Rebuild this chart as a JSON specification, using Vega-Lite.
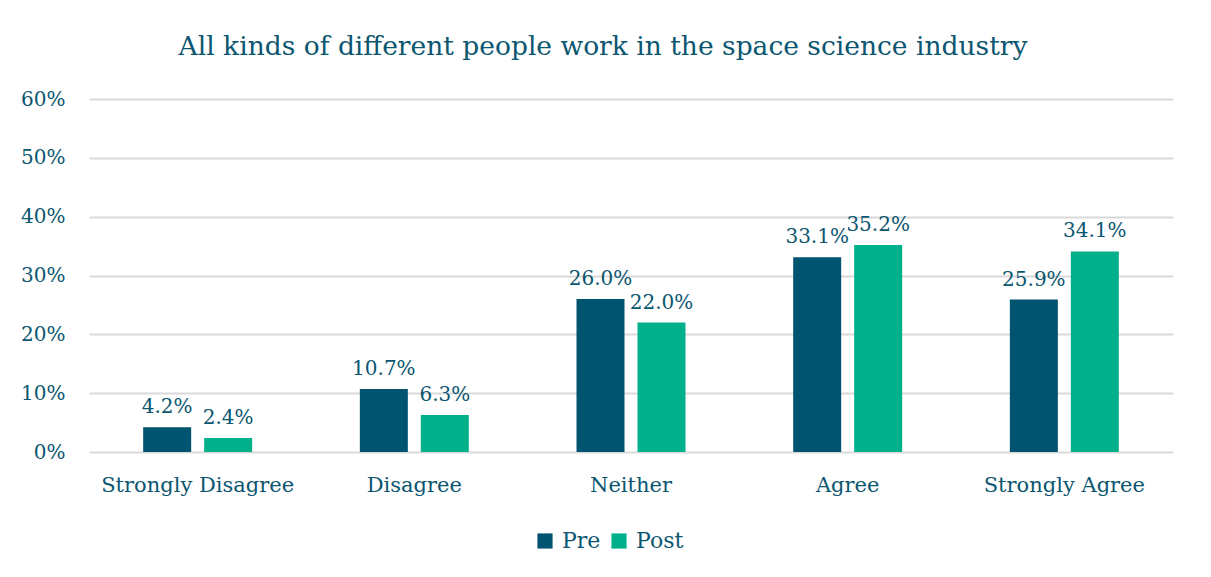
{
  "$schema": "https://vega.github.io/schema/vega-lite/v6.json",
  "width": 1084,
  "height": 353,
  "autosize": "none",
  "padding": {"left": 89, "top": 99, "right": 38, "bottom": 125},
  "background": "white",
  "title": {
    "text": "All kinds of different people work in the space science industry",
    "font": "DejaVu Serif",
    "fontSize": 26.5,
    "fontWeight": "normal",
    "color": "#0B5670",
    "anchor": "middle",
    "dx": -28,
    "offset": 29
  },
  "data": {
    "values": [
      {"cat": "Strongly Disagree", "grp": "Pre", "v": 0.042},
      {"cat": "Strongly Disagree", "grp": "Post", "v": 0.024},
      {"cat": "Disagree", "grp": "Pre", "v": 0.107},
      {"cat": "Disagree", "grp": "Post", "v": 0.063},
      {"cat": "Neither", "grp": "Pre", "v": 0.260},
      {"cat": "Neither", "grp": "Post", "v": 0.220},
      {"cat": "Agree", "grp": "Pre", "v": 0.331},
      {"cat": "Agree", "grp": "Post", "v": 0.352},
      {"cat": "Strongly Agree", "grp": "Pre", "v": 0.259},
      {"cat": "Strongly Agree", "grp": "Post", "v": 0.341}
    ]
  },
  "encoding": {
    "x": {
      "field": "cat", "type": "nominal", "sort": null, "title": null,
      "scale": {"paddingInner": 0.497, "paddingOuter": 0.25},
      "axis": {"labelAngle": 0, "domain": false, "ticks": false, "labelPadding": 22, "labelLimit": 0, "labelOverlap": false, "labelFont": "DejaVu Serif", "labelFontSize": 21, "labelColor": "#0B5670"}
    },
    "xOffset": {"field": "grp", "type": "nominal", "sort": ["Pre", "Post"], "scale": {"paddingInner": 0.213}},
    "y": {
      "field": "v", "type": "quantitative", "title": null,
      "scale": {"domain": [0, 0.6]},
      "axis": {"format": ".0%", "values": [0, 0.1, 0.2, 0.3, 0.4, 0.5, 0.6], "labelOverlap": false, "domain": false, "ticks": false, "labelPadding": 24, "labelFont": "DejaVu Serif", "labelFontSize": 20, "labelColor": "#0B5670", "gridColor": "#D9D9D9", "gridWidth": 2}
    }
  },
  "layer": [
    {
      "mark": {"type": "bar"},
      "encoding": {
        "color": {
          "field": "grp", "type": "nominal", "sort": ["Pre", "Post"], "title": null,
          "scale": {"domain": ["Pre", "Post"], "range": ["#00546F", "#00B08A"]},
          "legend": {"orient": "none", "legendX": 445, "legendY": 431, "direction": "horizontal", "symbolType": "square", "symbolSize": 230, "symbolStrokeWidth": 0, "symbolOpacity": 1, "labelFont": "DejaVu Serif", "labelFontSize": 22, "labelColor": "#0B5670", "labelOffset": 6, "columnPadding": 7}
        }
      }
    },
    {
      "mark": {"type": "text", "baseline": "bottom", "dy": -10, "font": "DejaVu Serif", "fontSize": 20, "color": "#0B5670"},
      "encoding": {"text": {"field": "v", "type": "quantitative", "format": ".1%"}}
    }
  ],
  "config": {"view": {"stroke": null}}
}
